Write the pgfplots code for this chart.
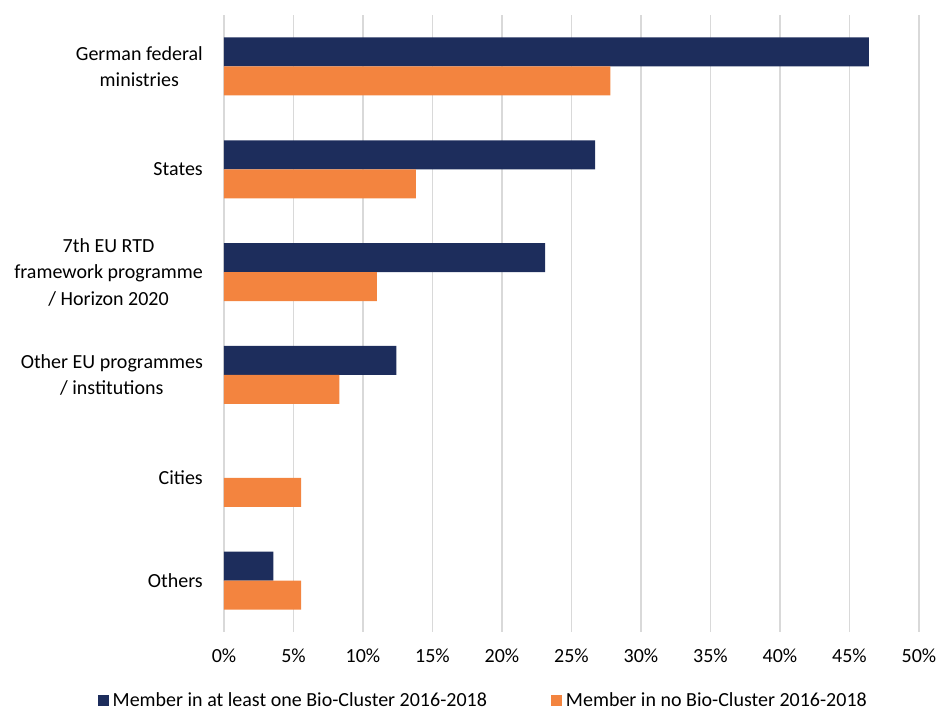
\documentclass[border=0pt]{standalone}
\usepackage{pgfplots}
\pgfplotsset{compat=1.18}
\usepackage{fontspec}
\setmainfont{Carlito}
\definecolor{navy}{HTML}{1D2D5C}
\definecolor{orng}{HTML}{F3843F}
\definecolor{gridc}{HTML}{D9D9D9}
\begin{document}
\begin{tikzpicture}
\path[use as bounding box] (-224pt,-80pt) rectangle (713pt,632pt);
\begin{axis}[
  at={(0pt,0pt)}, anchor=south west,
  scale only axis, width=695pt, height=617pt,
  xbar, bar width=29pt,
  xmin=0, xmax=50, ymin=-0.5, ymax=5.5,
  y dir=reverse,
  xtick={0,5,...,50},
  xticklabels={0\%,5\%,10\%,15\%,20\%,25\%,30\%,35\%,40\%,45\%,50\%},
  ytick={0,1,2,3,4,5},
  yticklabels={{German federal\\ministries},{States},{7th EU RTD\\framework programme\\/ Horizon 2020},{Other EU programmes\\/ institutions},{Cities},{Others}},
  yticklabel style={align=center, inner xsep=0pt, xshift=-21pt, font=\fontsize{20}{26.5}\selectfont},
  xticklabel style={font=\fontsize{20}{24}\selectfont, yshift=-13pt},
  major tick length=0pt,
  xmajorgrids, major grid style={gridc, line width=1.2pt},
  axis line style={draw=none},
  legend style={at={(0.373,-0.111)}, anchor=center, draw=none, legend columns=2,
    font=\fontsize{20}{24}\selectfont, /tikz/every even column/.append style={column sep=62pt},
    /tikz/every odd column/.append style={column sep=2pt}},
  legend image code/.code={\fill[#1] (0pt,-5.5pt) rectangle (11pt,5.5pt);},
]
\addplot[fill=navy, draw=none, bar shift=14.5pt] coordinates {(46.4,0) (26.7,1) (23.1,2) (12.4,3) (3.55,5)};
\addplot[fill=orng, draw=none, bar shift=-14.5pt] coordinates {(27.8,0) (13.8,1) (11.0,2) (8.3,3) (5.55,4) (5.55,5)};
\legend{Member in at least one Bio-Cluster 2016-2018, Member in no Bio-Cluster 2016-2018}
\end{axis}
\end{tikzpicture}
\end{document}
